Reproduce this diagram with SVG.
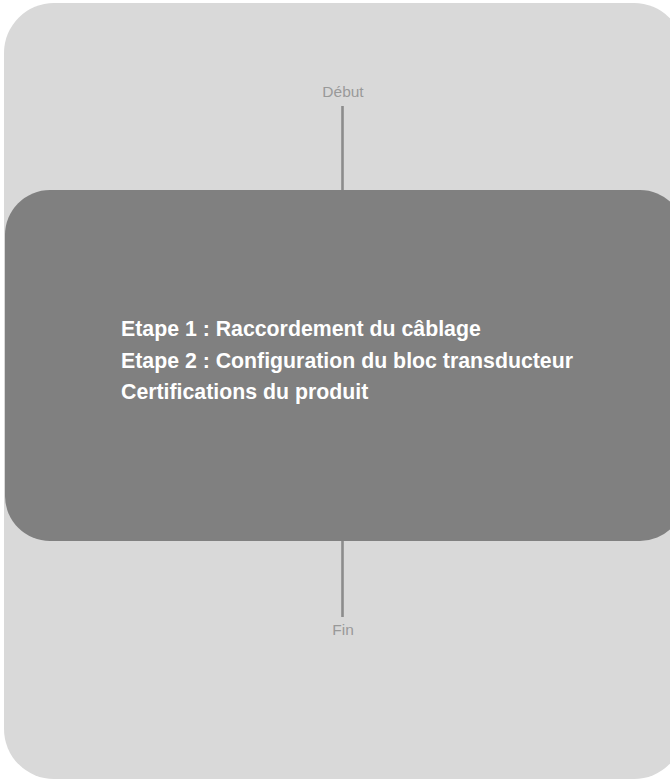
<svg xmlns="http://www.w3.org/2000/svg" width="670" height="782" viewBox="0 0 670 782">
<style>
.lbl{font-family:"Liberation Sans",Arial,sans-serif;font-size:15.5px;fill:#999999;text-anchor:middle}
.item{font-family:"Liberation Sans",Arial,sans-serif;font-size:21.3px;font-weight:bold;fill:#ffffff}
.conn{stroke:#8c8c8c;stroke-width:2.6;fill:none}
</style>
<g id="background"><rect x="4" y="3" width="680" height="776" rx="50" ry="50" fill="#d9d9d9"/></g>
<g id="connectors">
<line class="conn" x1="342.5" y1="106" x2="342.5" y2="191"/>
<line class="conn" x1="342.5" y1="540" x2="342.5" y2="617"/>
</g>
<g id="start"><text class="lbl" x="343" y="97">Début</text></g>
<g id="main">
<rect x="5" y="190" width="680" height="351" rx="45" ry="45" fill="#808080"/>
<text class="item" x="121" y="336">Etape 1 : Raccordement du câblage</text>
<text class="item" x="121" y="367.5">Etape 2 : Configuration du bloc transducteur</text>
<text class="item" x="121" y="399">Certifications du produit</text>
</g>
<g id="end"><text class="lbl" x="343" y="635">Fin</text></g>
</svg>
